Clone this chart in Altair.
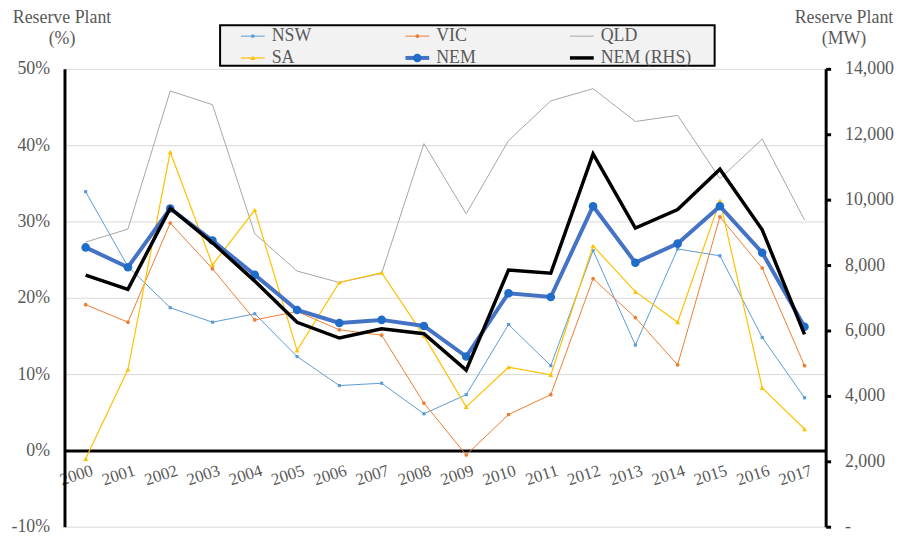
import altair as alt
import pandas as pd

# ---------------- data ----------------
years = [str(y) for y in range(2000, 2018)]
nsw = [33.9, 24.1, 18.7, 16.8, 17.9, 12.3, 8.5, 8.8, 4.8, 7.3, 16.5, 11.1, 26.2, 13.8, 26.4, 25.5, 14.8, 6.9]
vic = [19.1, 16.8, 29.8, 23.8, 17.1, 18.2, 15.8, 15.1, 6.2, -0.6, 4.7, 7.3, 22.5, 17.4, 11.2, 30.6, 23.9, 11.1]
qld = [27.3, 29.0, 47.1, 45.3, 28.4, 23.5, 22.0, 23.2, 40.2, 31.0, 40.6, 45.8, 47.4, 43.1, 43.9, 35.6, 40.8, 30.2]
sa = [-1.1, 10.6, 39.1, 24.3, 31.5, 13.1, 22.0, 23.3, 15.0, 5.7, 10.9, 9.9, 26.8, 20.8, 16.8, 32.7, 8.2, 2.8]
nem = [26.6, 24.0, 31.7, 27.5, 23.0, 18.4, 16.7, 17.1, 16.3, 12.3, 20.6, 20.1, 32.0, 24.6, 27.1, 32.0, 25.9, 16.2]
nem_mw = [7690, 7260, 9740, 8680, 7510, 6250, 5770, 6050, 5900, 4790, 7850, 7750, 11400, 9130, 9700, 10930, 9080, 5880]

pct_series = ["NSW", "VIC", "QLD", "SA", "NEM"]
pct_values = [nsw, vic, qld, sa, nem]
legend_names = ["NSW", "VIC", "QLD", "SA", "NEM", "NEM (RHS)"]

rows = []
for name, vals in zip(pct_series, pct_values):
    for yr, v in zip(years, vals):
        rows.append({"year": yr, "series": name, "value": v})
df_pct = pd.DataFrame(rows)
df_mw = pd.DataFrame({"year": years, "series": "NEM (RHS)", "mw": nem_mw})
df_one = pd.DataFrame({"k": [0]})

# ---------------- styles ----------------
FONT = "Liberation Serif"
GREY = "#595959"
styles = {
    "NSW": dict(color="#5b9bd5", width=1, shape="square", size=10, mcolor="#5b9bd5"),
    "VIC": dict(color="#ed7d31", width=1, shape="circle", size=14, mcolor="#ed7d31"),
    "QLD": dict(color="#a5a5a5", width=1, shape=None, size=0, mcolor=None),
    "SA": dict(color="#ffc000", width=1.2, shape="triangle-up", size=24, mcolor="#ffc000"),
    "NEM": dict(color="#4472c4", width=4, shape="circle", size=75, mcolor="#1f6cc9"),
    "NEM (RHS)": dict(color="#000000", width=3.5, shape=None, size=0, mcolor=None),
}

W, H = 768, 462

x_enc = alt.X(
    "year:O",
    scale=alt.Scale(type="point", padding=0.5),
    axis=alt.Axis(
        title=None, orient="bottom", offset=-77, grid=False, ticks=False,
        domainColor="black", domainWidth=3,
        labelAngle=342, labelAlign="right", labelBaseline="top",
        labelPadding=12, labelOffset=4,
        labelFont=FONT, labelFontSize=17, labelColor=GREY,
    ),
)

y_left = alt.Y(
    "value:Q",
    scale=alt.Scale(domain=[-10, 50], nice=False, zero=False),
    axis=alt.Axis(
        values=[-10, 0, 10, 20, 30, 40, 50],
        labelExpr="datum.value + '%'",
        grid=True, gridColor="#d9d9d9", gridWidth=1,
        ticks=False, tickSize=0, labelPadding=15,
        domainColor="black", domainWidth=3,
        labelFont=FONT, labelFontSize=18, labelColor=GREY,
        title=["Reserve Plant", "(%)"], titleAngle=0, titleAlign="center",
        titleBaseline="alphabetic", titleX=-3, titleY=-47,
        titleFont=FONT, titleFontSize=18, titleFontWeight="normal",
        titleColor=GREY, titleLineHeight=21,
    ),
)

y_right = alt.Y(
    "mw:Q",
    scale=alt.Scale(domain=[0, 14000], nice=False),
    axis=alt.Axis(
        orient="right",
        values=[0, 2000, 4000, 6000, 8000, 10000, 12000, 14000],
        labelExpr="datum.value == 0 ? '   -' : format(datum.value, ',')",
        grid=False, ticks=True, tickSize=5, tickColor="black", tickWidth=3,
        labelPadding=14, domainColor="black", domainWidth=3,
        labelFont=FONT, labelFontSize=18, labelColor=GREY,
        title=["Reserve Plant", "(MW)"], titleAngle=0, titleAlign="center",
        titleBaseline="alphabetic", titleX=18, titleY=-47,
        titleFont=FONT, titleFontSize=18, titleFontWeight="normal",
        titleColor=GREY, titleLineHeight=21,
    ),
)

left_layers = []
for name in pct_series:
    st = styles[name]
    base = alt.Chart(df_pct).transform_filter(alt.datum.series == name)
    left_layers.append(
        base.mark_line(color=st["color"], strokeWidth=st["width"]).encode(x=x_enc, y=y_left)
    )
    if st["shape"]:
        left_layers.append(
            base.mark_point(shape=st["shape"], size=st["size"], filled=True,
                            color=st["mcolor"], opacity=1).encode(x=x_enc, y=y_left)
        )
left = alt.layer(*left_layers)

st = styles["NEM (RHS)"]
right = alt.Chart(df_mw).mark_line(color=st["color"], strokeWidth=st["width"]).encode(
    x=x_enc, y=y_right
)

# ---------------- legend (drawn as marks) ----------------
leg_layers = [
    alt.Chart(df_one).mark_rect(fill="#f2f2f2", stroke="black", strokeWidth=2).encode(
        x=alt.value(157), x2=alt.value(656), y=alt.value(-44), y2=alt.value(-3)
    )
]
col_x = [190, 356, 522]
row_y = [-33, -11]
for i, name in enumerate(legend_names):
    st = styles[name]
    cx = col_x[i % 3]
    cy = row_y[i // 3]
    leg_layers.append(
        alt.Chart(df_one).mark_rule(color=st["color"], strokeWidth=st["width"]).encode(
            x=alt.value(cx - 12), x2=alt.value(cx + 12), y=alt.value(cy)
        )
    )
    if st["shape"]:
        leg_layers.append(
            alt.Chart(df_one).mark_point(shape=st["shape"], size=st["size"], filled=True,
                                         color=st["mcolor"], opacity=1).encode(
                x=alt.value(cx), y=alt.value(cy)
            )
        )
    leg_layers.append(
        alt.Chart(df_one).mark_text(align="left", baseline="middle", font=FONT,
                                    fontSize=18, fontWeight="normal", color=GREY).encode(
            x=alt.value(cx + 19), y=alt.value(cy), text=alt.value(name)
        )
    )
legend = alt.layer(*leg_layers)

chart = (
    alt.layer(left, right, legend)
    .resolve_scale(y="independent")
    .properties(
        width=W, height=H,
        padding={"left": 57, "top": 59, "right": 73, "bottom": 9},
        autosize=alt.AutoSizeParams(type="none"),
        background="white",
    )
    .configure_view(stroke=None)
)

chart.save("out.html", embed_options={"renderer": "svg", "actions": False})
